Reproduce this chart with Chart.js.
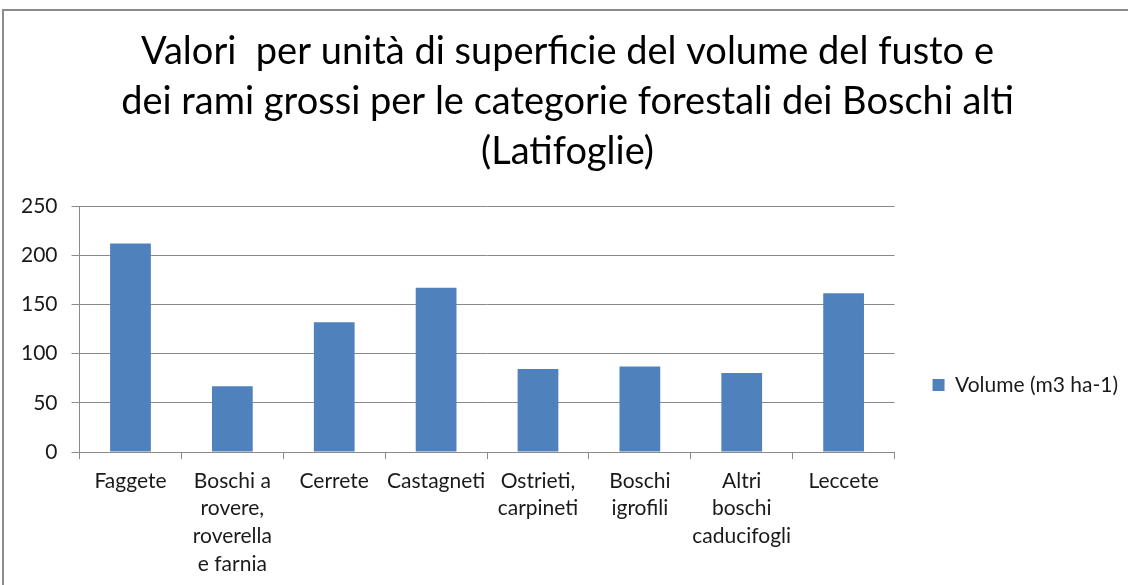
<!DOCTYPE html>
<html lang="it">
<head>
  <meta charset="UTF-8">
  <title>Volume del fusto e dei rami grossi - Latifoglie</title>
  <script src="https://cdn.jsdelivr.net/npm/chart.js"></script>
  <style>
    html, body {
      margin: 0;
      padding: 0;
      background: #fff;
      overflow: hidden;
    }
    .chart-box {
      position: absolute;
      left: 2px;
      top: 9px;
      width: 1136px;
      height: 590px;
      border: 2px solid #8c8c8c;
      background: #fff;
    }
  </style>
</head>
<body>
  <div class="chart-box">
    <canvas id="volChart"></canvas>
  </div>

  <script>
    const titleLines = [
      'Valori  per unità di superficie del volume del fusto e',
      'dei rami grossi per le categorie forestali dei Boschi alti',
      '(Latifoglie)'
    ];
    const categories = [
      'Faggete',
      ['Boschi a', 'rovere,', 'roverella', 'e farnia'],
      'Cerrete',
      'Castagneti',
      ['Ostrieti,', 'carpineti'],
      ['Boschi', 'igrofili'],
      ['Altri', 'boschi', 'caducifogli'],
      'Leccete'
    ];
    const seriesName = 'Volume (m3 ha-1)';
    const volumes = [212, 67, 132, 167, 84.5, 87, 80.5, 161.5];
    const yTicks = [0, 50, 100, 150, 200, 250];

    const FONT = 'Lato, "Open Sans", sans-serif';
    const TEXT = '#1a1a1a';
    const gridGray = '#8a8a8a';

    new Chart(document.getElementById('volChart'), {
      type: 'bar',
      data: {
        labels: categories,
        datasets: [{
          label: seriesName,
          data: volumes,
          backgroundColor: '#4f81bd',
          borderWidth: 0,
          barPercentage: 0.4,
          categoryPercentage: 1.0
        }]
      },
      options: {
        responsive: true,
        maintainAspectRatio: false,
        animation: false,
        layout: { padding: { left: 3, right: 12, top: 0, bottom: 15 } },
        plugins: {
          title: {
            display: true,
            text: titleLines,
            color: '#000',
            font: { family: FONT, size: 38, weight: 'normal', lineHeight: 1.316 },
            padding: { top: 16, bottom: 29 }
          },
          legend: {
            display: true,
            position: 'right',
            align: 'center',
            // empty title only pushes the single entry down, like Excel's legend
            title: {
              display: true,
              text: '',
              font: { family: FONT, size: 10 },
              padding: { top: 161, bottom: 0 }
            },
            labels: {
              color: TEXT,
              font: { family: FONT, size: 21 },
              boxWidth: 12,
              boxHeight: 12,
              padding: 38
            }
          },
          tooltip: { enabled: false }
        },
        scales: {
          x: {
            offset: true,
            grid: {
              offset: true,
              drawOnChartArea: false,
              drawTicks: true,
              tickLength: 7,
              color: gridGray
            },
            border: { display: true, color: gridGray, width: 1 },
            ticks: {
              color: TEXT,
              font: { family: FONT, size: 21, lineHeight: 1.32 },
              maxRotation: 0,
              minRotation: 0,
              autoSkip: false,
              padding: 8
            }
          },
          y: {
            min: 0,
            max: yTicks[yTicks.length - 1],
            afterBuildTicks: axis => { axis.ticks = yTicks.map(v => ({ value: v })); },
            grid: {
              color: gridGray,
              lineWidth: 1,
              tickLength: 8
            },
            border: { display: true, color: gridGray, width: 1 },
            ticks: {
              color: TEXT,
              font: { family: FONT, size: 21 },
              padding: 14
            }
          }
        }
      }
    });
  </script>
</body>
</html>
